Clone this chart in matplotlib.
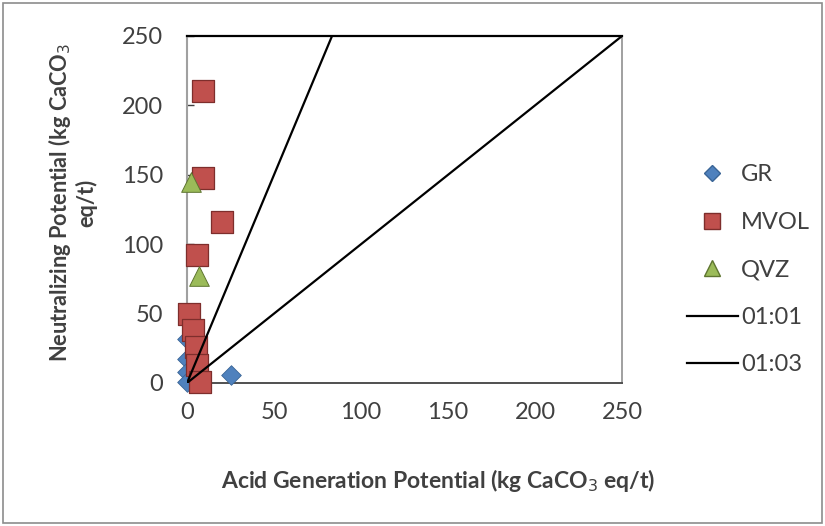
import matplotlib
matplotlib.use("Agg")
import matplotlib.pyplot as plt
from matplotlib.patches import Rectangle
from matplotlib.lines import Line2D

plt.rcParams['font.family'] = ['Lato', 'DejaVu Sans']

# Acid generation potential (AP) vs neutralizing potential (NP), kg CaCO3 eq/t
gr_ap = [0, 0, 0, 0, 25]
gr_np = [32, 17, 8, 1, 6]

mvol_ap = [9, 9, 20, 6, 1, 3.5, 5, 5.5, 7.5]
mvol_np = [210, 148, 116, 92, 50, 38, 26, 13, 1]

qvz_ap = [2, 7]
qvz_np = [145, 77]

# Reference ratio lines NP:AP
line_11_ap = [0, 250]
line_11_np = [0, 250]
line_13_ap = [0, 250 / 3]
line_13_np = [0, 250]

axis_ticks = [0, 50, 100, 150, 200, 250]

fig = plt.figure(figsize=(8.25, 5.26), dpi=100)
ax = fig.add_axes([0.2267, 0.2719, 0.754 - 0.2267, 0.9316 - 0.2719])

ax.plot(line_11_ap, line_11_np, color='black', lw=1.6, zorder=4, label='01:01')
ax.plot(line_13_ap, line_13_np, color='black', lw=1.6, zorder=4, label='01:03')

ax.scatter(gr_ap, gr_np, marker='D', s=100, color='#4F81BD', edgecolor='#3A6596',
           linewidth=0.6, zorder=3, clip_on=False, label='GR')
ax.scatter(mvol_ap, mvol_np, marker='s', s=230, color='#C0504D', edgecolor='#7E2E2C',
           linewidth=0.9, zorder=3, clip_on=False, label='MVOL')
ax.scatter(qvz_ap, qvz_np, marker='^', s=200, color='#9BBB59', edgecolor='#5E7530',
           linewidth=0.7, zorder=3, clip_on=False, label='QVZ')

ax.set_xlim(0, 250)
ax.set_ylim(0, 250)
ax.set_xticks(axis_ticks)
ax.set_yticks(axis_ticks)
ax.tick_params(axis='both', labelsize=17, labelcolor='#404040', length=0)
ax.tick_params(axis='x', pad=14)
ax.tick_params(axis='y', direction='in', length=5, color='#404040', width=1, pad=17.3)

ax.spines['top'].set_color('black')
ax.spines['top'].set_linewidth(1.6)
ax.spines['bottom'].set_color('#505050')
ax.spines['bottom'].set_linewidth(1.4)
ax.spines['left'].set_color('#A0A0A0')
ax.spines['left'].set_linewidth(1.5)
ax.spines['right'].set_color('#909090')
ax.spines['right'].set_linewidth(1.2)

ax.set_xlabel('Acid Generation Potential (kg CaCO$_3$ eq/t)', fontsize=16.5,
              fontweight='bold', color='#404040')
ax.set_ylabel('Neutralizing Potential (kg CaCO$_3$\neq/t)', fontsize=15.7,
              fontweight='bold', color='#404040', linespacing=1.1)
ax.xaxis.set_label_coords(0.577, -0.28)
ax.yaxis.set_label_coords(-0.2655, 0.52)
ax.xaxis.label.set_va('center')
ax.yaxis.label.set_va('center')

handles = [
    Line2D([], [], marker='D', ls='none', color='#4F81BD', markeredgecolor='#3A6596', markersize=8),
    Line2D([], [], marker='s', ls='none', color='#C0504D', markeredgecolor='#7E2E2C', markersize=11),
    Line2D([], [], marker='^', ls='none', color='#9BBB59', markeredgecolor='#5E7530', markersize=11),
    Line2D([], [], color='black', lw=1.6),
    Line2D([], [], color='black', lw=1.6),
]
labels = ['GR', 'MVOL', 'QVZ', '01:01', '01:03']
fig.legend(handles, labels, loc='center left', bbox_to_anchor=(0.807, 0.487),
           frameon=False, fontsize=17, labelcolor='#404040', handlelength=2.15,
           handletextpad=0.15, labelspacing=1.12)

fig.patches.append(Rectangle((0.004, 0.006), 0.992, 0.988, transform=fig.transFigure,
                             fill=False, edgecolor='#8C8C8C', linewidth=1.2))

fig.savefig('out.png', dpi=100)
